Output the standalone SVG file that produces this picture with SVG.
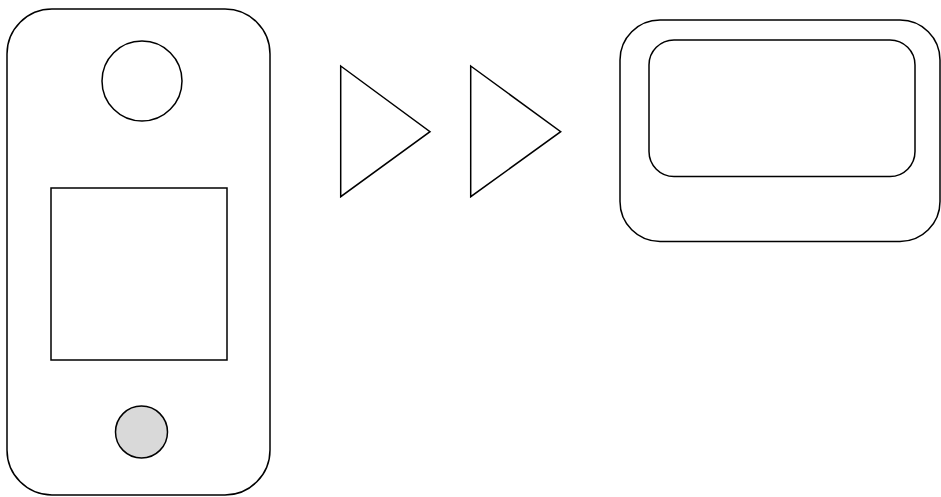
<svg xmlns="http://www.w3.org/2000/svg" width="941" height="497" viewBox="0 0 941 497">
<style>
.s{fill:none;stroke:#000;stroke-width:1.5}
.w{fill:#fff;stroke:#000;stroke-width:1.5}
.g{fill:#d9d9d9;stroke:#000;stroke-width:1.5}
</style>
<rect width="941" height="497" fill="#fff"/>
<g id="phone">
<rect class="w" x="7" y="9" width="263" height="486" rx="45" ry="45"/>
<circle class="w" cx="142" cy="81" r="40"/>
<rect class="w" x="51" y="188" width="176" height="172"/>
<circle class="g" cx="141.5" cy="432" r="26"/>
</g>
<g id="connectors">
<polygon class="w" points="340.7,66 430,131.7 340.7,196.7"/>
<polygon class="w" points="470.7,66 560.7,131.7 470.7,196.7"/>
</g>
<g id="pager">
<rect class="w" x="620" y="20" width="320" height="221.5" rx="40" ry="40"/>
<rect class="w" x="649" y="40" width="266" height="136.5" rx="25" ry="25"/>
</g>
</svg>
